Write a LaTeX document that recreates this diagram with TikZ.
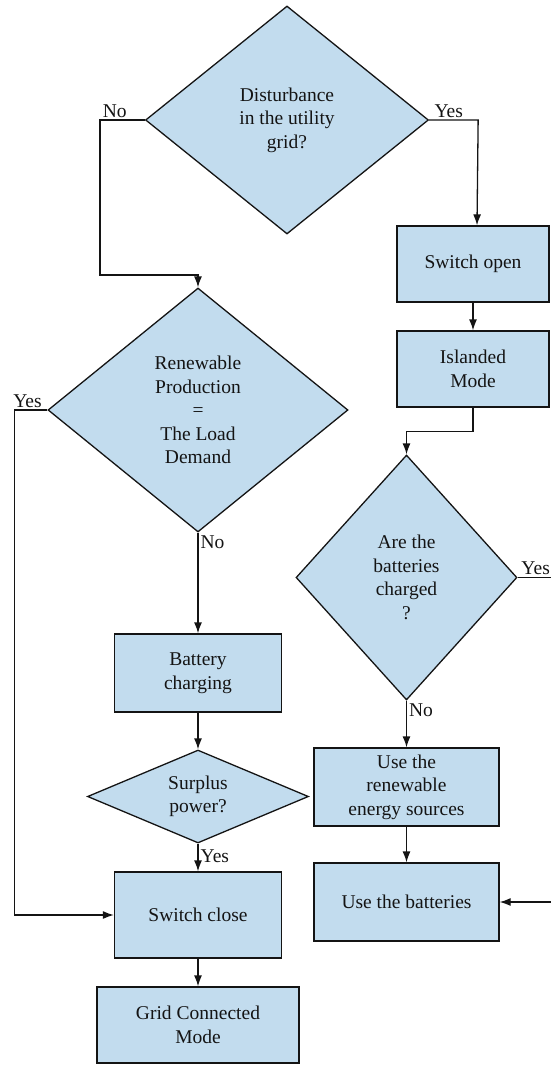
\documentclass[tikz,border=0pt]{standalone}
\usepackage{fontspec}
\setmainfont{Liberation Serif}
\usetikzlibrary{shapes.geometric,arrows.meta}
\definecolor{boxblue}{RGB}{194,220,238}
\definecolor{ink}{RGB}{20,20,20}

\begin{document}
\begin{tikzpicture}[x=1pt,y=-1pt,
  box/.style={draw=ink,fill=boxblue,line width=1.3pt,align=center,
    text=ink,font=\fontsize{19.5}{23.5}\selectfont,inner sep=0pt},
  ask/.style={box,diamond,aspect=1.2},
  lbl/.style={text=ink,font=\fontsize{19.5}{23.5}\selectfont,inner sep=2pt},
  arr/.style={draw=ink,line width=1.3pt,-{Latex[length=11pt,width=8pt]}}]

  \useasboundingbox (0,0) rectangle (550,1065);

  \draw (287,120) node[ask,minimum width=283,minimum height=228] (dist) {Disturbance\\in the utility\\grid?};
\draw (198,410) node[ask,minimum width=300,minimum height=244] (renew) {Renewable\\Production\\=\\The Load\\Demand};
\draw (406.5,577.5) node[ask,minimum width=221,minimum height=245] (charged) {Are the\\batteries\\charged\\?};
\draw (198,796.5) node[ask,aspect=2.4,minimum width=221,minimum height=93] (surplus) {Surplus\\power?};

  \draw (473,264) node[box,minimum width=152,minimum height=76] (open) {Switch open};
\draw (473,369) node[box,minimum width=152,minimum height=76] (island) {Islanded\\Mode};
\draw (198,673) node[box,minimum width=167,minimum height=78] (battchg) {Battery\\charging};
\draw (198,915) node[box,minimum width=167,minimum height=86] (close) {Switch close};
\draw (198,1025) node[box,minimum width=202,minimum height=76] (grid) {Grid Connected\\Mode};
\draw (406.5,787) node[box,minimum width=185,minimum height=78] (usere) {Use the\\renewable\\energy sources};
\draw (406.5,902) node[box,minimum width=185,minimum height=78] (usebat) {Use the batteries};

  \draw[arr] (dist.west) -- node[lbl,pos=0.67,above] {No} ++(-45,0)
  -- ++(0,155) -| (renew.north);
  \draw[arr] (dist.east) -- node[lbl,pos=0.4,above] {Yes} ++(49,0)
  -- (open.north -| 477,0);
  \draw[arr] (open.south) -- (island.north);
  \draw[arr] (island.south) -- ++(0,24) -| (charged.north);

  \draw[arr] (renew.west) -- node[lbl,pos=0.6,above] {Yes} ++(-33,0)
  |- (close.west);
  \draw[arr] (renew.south) node[lbl,anchor=north west] {No} -- (battchg.north);
  \draw[arr] (battchg.south) -- (surplus.north);
  \draw[arr] (surplus.south) node[lbl,anchor=north west,yshift=-3] {Yes} -- (close.north);
  \draw[arr] (close.south) -- (grid.north);

  \draw[arr] (charged.east) -- node[lbl,midway,above] {Yes} ++(36,0)
  |- (usebat.east);
  \draw[arr] (charged.south) node[lbl,anchor=north west] {No} -- (usere.north);
  \draw[arr] (usere.south) -- (usebat.north);

\end{tikzpicture}
\end{document}
